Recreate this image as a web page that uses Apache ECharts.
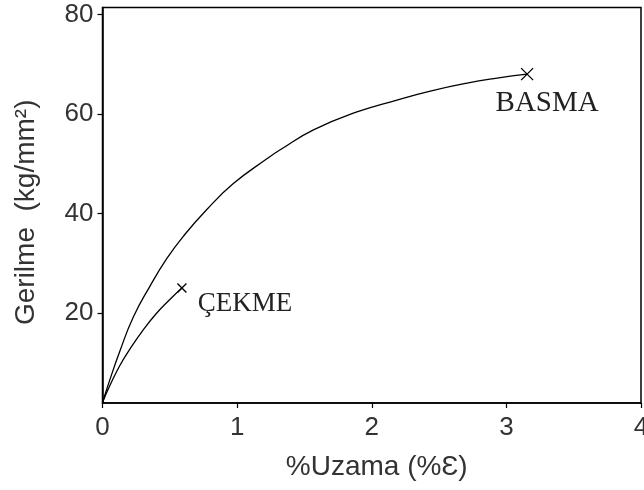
<!DOCTYPE html>
<html>
<head>
<meta charset="utf-8">
<script src="https://cdn.jsdelivr.net/npm/echarts@6/dist/echarts.min.js"></script>
<style>html,body{margin:0;padding:0;background:#fff;}#c{width:644px;height:490px;}</style>
</head>
<body>
<div id="c"></div>
<script>
// Data
const basmaX = [0, 0.05, 0.13, 0.229, 0.353, 0.477, 0.6, 0.775, 0.972, 1.221, 1.32, 1.567, 1.89, 2.187, 2.435, 2.708, 2.931, 3.154];
const basmaY = [2, 6.2, 12.4, 19.2, 25.4, 30.9, 35.4, 40.8, 46.0, 51.0, 52.8, 56.8, 60.4, 62.8, 64.6, 66.2, 67.2, 68.0];
const cekmeX = [0, 0.06, 0.13, 0.2, 0.3, 0.4, 0.5, 0.59];
const cekmeY = [2, 5.7, 9.5, 12.6, 16.5, 19.9, 22.7, 25.0];
const seriesNames = ['BASMA', 'ÇEKME'];
const xTicks = [0, 1, 2, 3, 4];
const yTicks = [20, 40, 60, 80];
const xTitle = '%Uzama (%Ɛ)';
const yTitle = 'Gerilme  (kg/mm²)';

const crossPath = 'path://M0,0L10,10M10,0L0,10';

function build(xs, ys, name, size, labelOffset, fontSize) {
  return xs.map((x, i) => {
    const item = { value: [x, ys[i]] };
    if (i === xs.length - 1) {
      item.symbol = crossPath;
      item.symbolSize = size;
      item.itemStyle = { color: 'transparent', borderColor: '#000', borderWidth: 1.3 };
      item.label = {
        show: true, formatter: name, position: 'inside', offset: labelOffset,
        fontFamily: 'Liberation Serif', fontSize: fontSize, color: '#222'
      };
    }
    return item;
  });
}

const chart = echarts.init(document.getElementById('c'), null, { renderer: 'canvas' });
chart.setOption({
  animation: false,
  backgroundColor: '#fff',
  grid: {
    left: 102.5, right: 3, top: 7.5, bottom: 87, containLabel: false, outerBoundsMode: 'none',
    show: true, borderColor: '#000', borderWidth: 1.5, backgroundColor: 'transparent'
  },
  xAxis: {
    type: 'value', min: xTicks[0], max: xTicks[xTicks.length - 1], interval: 1,
    name: xTitle, nameLocation: 'middle', nameGap: 50,
    nameTextStyle: { fontFamily: 'Liberation Sans', fontSize: 28, color: '#333', padding: [0, 0, 0, 10] },
    axisLine: { show: true, lineStyle: { color: '#000', width: 1.5 } },
    axisTick: { show: true, inside: false, length: 5, lineStyle: { color: '#000', width: 1.2 } },
    axisLabel: { show: true, margin: 12, fontFamily: 'Liberation Sans', fontSize: 26, color: '#333', hideOverlap: false, showMaxLabel: true },
    splitLine: { show: false }
  },
  yAxis: {
    type: 'value', min: 1.9, max: 81.4,
    name: yTitle, nameLocation: 'middle', nameGap: 62, nameRotate: 90,
    nameTextStyle: { fontFamily: 'Liberation Sans', fontSize: 28, color: '#333', padding: [0, 14, 0, 0] },
    axisLine: { show: true, lineStyle: { color: '#000', width: 1.5 } },
    axisTick: { show: true, inside: false, length: 5, customValues: yTicks, lineStyle: { color: '#000', width: 1.2 } },
    axisLabel: { show: true, margin: 9, customValues: yTicks, fontFamily: 'Liberation Sans', fontSize: 26, color: '#333' },
    splitLine: { show: false }
  },
  series: [
    {
      name: seriesNames[0], type: 'line', smooth: 0.5, symbol: 'none', showSymbol: true,
      lineStyle: { color: '#000', width: 1.3 },
      data: build(basmaX, basmaY, seriesNames[0], 12, [20, 29], 29)
    },
    {
      name: seriesNames[1], type: 'line', smooth: 0.5, symbol: 'none', showSymbol: true,
      lineStyle: { color: '#000', width: 1.3 },
      data: build(cekmeX, cekmeY, seriesNames[1], 9, [63, 16], 27)
    }
  ]
});
</script>
</body>
</html>
